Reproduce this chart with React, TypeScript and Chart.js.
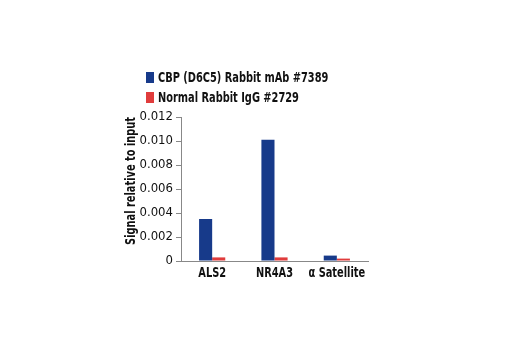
import React, { useEffect, useRef } from "react";
import { Chart, registerables } from "chart.js";

Chart.register(...registerables);

const categories = ["ALS2", "NR4A3", "\u03b1 Satellite"];
const cbpValues = [0.0035, 0.0101, 0.00045];
const iggValues = [0.0003, 0.0003, 0.0002];
const seriesLabels = ["CBP (D6C5) Rabbit mAb #7389", "Normal Rabbit IgG #2729"];
const seriesColors = ["#173a8a", "#e03c3c"];
const yTicks = [0, 0.002, 0.004, 0.006, 0.008, 0.01, 0.012];

const FONT = "'DejaVu Sans Condensed', 'DejaVu Sans', sans-serif";
const NARROW = 0.78;

// Draw bold text horizontally condensed (mimics a condensed bold face).
const condensePlugin = {
  id: "condenseText",
  beforeDraw(chart: any) {
    const ctx = chart.ctx;
    if (ctx.__patched) return;
    const orig = ctx.fillText.bind(ctx);
    ctx.fillText = (text: string, x: number, y: number, maxWidth?: number) => {
      if (ctx.font.indexOf("bold") >= 0) {
        ctx.save();
        ctx.translate(x, y);
        ctx.scale(NARROW, 1);
        orig(text, 0, 0);
        ctx.restore();
      } else if (maxWidth !== undefined) {
        orig(text, x, y, maxWidth);
      } else {
        orig(text, x, y);
      }
    };
    ctx.__patched = true;
  },
};

const legendPlugin = {
  id: "customLegend",
  afterDraw(chart: any) {
    const ctx = chart.ctx;
    const left = chart.chartArea.left - 35;
    const top = 72;
    ctx.save();
    chart.data.datasets.forEach((ds: any, i: number) => {
      const y = top + i * 20;
      ctx.fillStyle = ds.backgroundColor;
      ctx.fillRect(left, y, 8, 11);
      ctx.fillStyle = "#111";
      ctx.font = `bold 14px ${FONT}`;
      ctx.textBaseline = "middle";
      ctx.textAlign = "left";
      ctx.fillText(ds.label, left + 12, y + 6);
    });
    ctx.restore();
  },
};

export default function App() {
  const ref = useRef<HTMLCanvasElement | null>(null);
  useEffect(() => {
    if (!ref.current) return;
    const chart = new Chart(ref.current, {
      type: "bar",
      data: {
        labels: categories,
        datasets: [
          { label: seriesLabels[0], data: cbpValues, backgroundColor: seriesColors[0] },
          { label: seriesLabels[1], data: iggValues, backgroundColor: seriesColors[1] },
        ],
      },
      plugins: [condensePlugin, legendPlugin],
      options: {
        animation: false,
        responsive: false,
        maintainAspectRatio: false,
        layout: { padding: { left: 121, top: 117, right: 152, bottom: 59 } },
        plugins: { legend: { display: false }, tooltip: { enabled: false } },
        datasets: { bar: { categoryPercentage: 0.42, barPercentage: 1 } },
        scales: {
          x: {
            afterFit: (s: any) => { s.height = 30; },
            grid: { display: false, drawTicks: false },
            border: { display: true, color: "#888", width: 1 },
            ticks: { color: "#111", padding: 4, autoSkip: false, font: { family: FONT, size: 14, weight: "bold" }, maxRotation: 0 },
          },
          y: {
            min: 0,
            max: 0.012,
            afterFit: (s: any) => { s.width = 60; },
            afterBuildTicks: (s: any) => { s.ticks = yTicks.map((v) => ({ value: v })); },
            grid: { drawOnChartArea: false, drawTicks: true, tickLength: 5, color: "#888" },
            border: { display: true, color: "#888", width: 1 },
            title: { display: true, align: "end", text: "Signal relative to input", color: "#111", font: { family: FONT, size: 14, weight: "bold" }, padding: 2 },
            ticks: {
              color: "#111",
              padding: 3,
              font: { family: FONT, size: 13 },
              callback: (v: any) => (v === 0 ? "0" : Number(v).toFixed(3)),
            },
          },
        },
      },
    });
    return () => chart.destroy();
  }, []);
  return (
    <div style={{ position: "fixed", left: 0, top: 0, width: 520, height: 350, background: "#fff" }}>
      <canvas ref={ref} width={520} height={350} style={{ width: 520, height: 350 }} />
    </div>
  );
}
